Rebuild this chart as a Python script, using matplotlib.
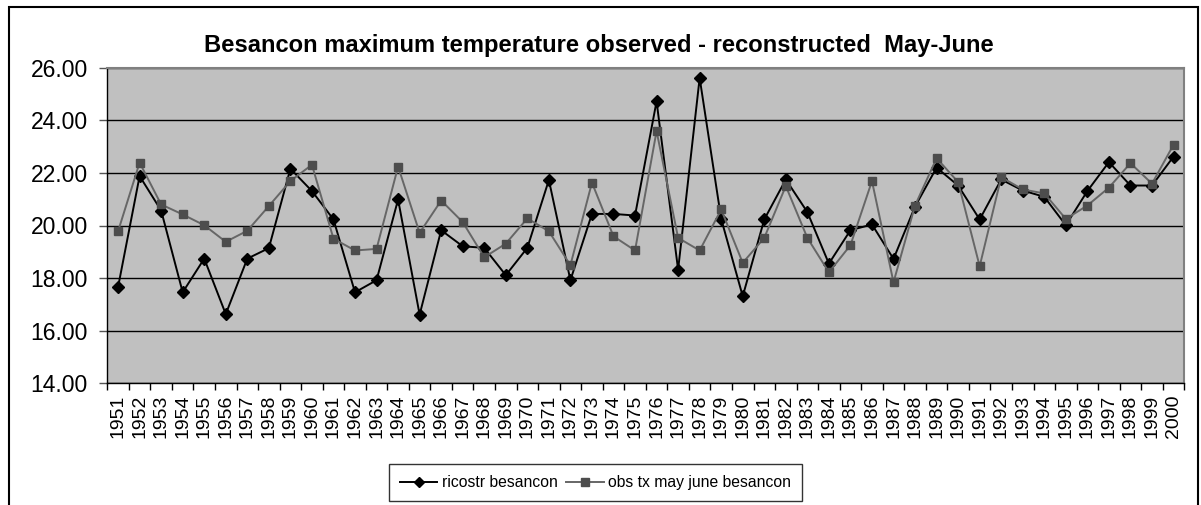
import matplotlib.pyplot as plt
from matplotlib.patches import Rectangle
import numpy as np

plt.rcParams['font.family'] = ['Liberation Sans', 'DejaVu Sans']

# === data ===
years = list(range(1951, 2001))
ricostr = [17.66, 21.88, 20.57, 17.46, 18.74, 16.63, 18.74, 19.14, 22.16, 21.31,
           20.23, 17.46, 17.92, 20.99, 16.61, 19.82, 19.21, 19.15, 18.11, 19.15,
           21.73, 17.92, 20.44, 20.44, 20.38, 24.72, 18.32, 25.61, 20.25, 17.31,
           20.23, 21.75, 20.51, 18.55, 19.82, 20.04, 18.73, 20.72, 22.20, 21.52,
           20.23, 21.75, 21.33, 21.09, 20.01, 21.31, 22.41, 21.52, 21.52, 22.62]
obs = [19.78, 22.39, 20.80, 20.42, 20.01, 19.38, 19.80, 20.74, 21.69, 22.31,
       19.50, 19.05, 19.11, 22.24, 19.72, 20.95, 20.13, 18.79, 19.31, 20.27,
       19.78, 18.49, 21.63, 19.59, 19.05, 23.59, 19.53, 19.05, 20.61, 18.58,
       19.53, 21.50, 19.53, 18.22, 19.25, 21.69, 17.84, 20.76, 22.56, 21.65,
       18.45, 21.84, 21.37, 21.22, 20.25, 20.76, 21.44, 22.37, 21.59, 23.07]
yticks = [14, 16, 18, 20, 22, 24, 26]

title = 'Besancon maximum temperature observed - reconstructed  May-June'
labels = ['ricostr besancon', 'obs tx may june besancon']

fig = plt.figure(figsize=(12.01, 5.05), dpi=100)

# outer chart border (bottom edge runs off the image)
fig.patches.append(Rectangle((9.3 / 1201, -0.05), (1197.7 - 9.3) / 1201, 1.05 - 7.3 / 505,
                             transform=fig.transFigure, fill=False,
                             edgecolor='black', linewidth=1.5))

ax = fig.add_axes([107.3 / 1201, 1 - 383.3 / 505, (1184.3 - 107.3) / 1201, (383.3 - 67.7) / 505])
ax.set_facecolor('#C0C0C0')

x = np.arange(len(years))
ax.plot(x, ricostr, color='black', linewidth=1.4, marker='D', markersize=6,
        markerfacecolor='black', markeredgecolor='black', label=labels[0], zorder=3)
ax.plot(x, obs, color='#666666', linewidth=1.4, marker='s', markersize=6,
        markerfacecolor='#4D4D4D', markeredgecolor='#4D4D4D', label=labels[1], zorder=4)

ax.set_xlim(-0.5, len(years) - 0.5)
ax.set_ylim(14, 26)

ax.set_yticks(yticks)
ax.set_yticklabels(['%.2f' % v for v in yticks], fontsize=16.5)
ax.yaxis.grid(True, color='black', linewidth=1.0)
ax.set_axisbelow(True)

# category boundaries as ticks, labels centred on categories
ax.set_xticks(np.arange(-0.5, len(years), 1.0))
ax.set_xticklabels([])
ax.set_xticks(x, minor=True)
ax.set_xticklabels([str(y) for y in years], minor=True, rotation=90, fontsize=14)
ax.tick_params(axis='x', which='major', length=5, width=1, color='black', direction='out')
ax.tick_params(axis='x', which='minor', length=0, pad=8)
ax.tick_params(axis='y', length=6, width=1, color='#555555', pad=8)

for side in ['top', 'right']:
    ax.spines[side].set_color('#808080')
    ax.spines[side].set_linewidth(1.5)
for side in ['left', 'bottom']:
    ax.spines[side].set_color('black')
    ax.spines[side].set_linewidth(1.0)

fig.text(599 / 1201, 1 - 51.7 / 505, title, ha='center', va='baseline',
         fontsize=17.1, fontweight='bold')

leg = fig.legend(loc='center', bbox_to_anchor=(595.5 / 1201, 1 - 482.5 / 505),
                 ncol=2, fontsize=11.3, frameon=True, fancybox=False, handlelength=2.4,
                 columnspacing=0.5, handletextpad=0.3, borderpad=0.7, borderaxespad=0,
                 markerscale=0.9)
leg.get_frame().set_edgecolor('black')
leg.get_frame().set_linewidth(1.0)

fig.savefig('out.png', dpi=100)
